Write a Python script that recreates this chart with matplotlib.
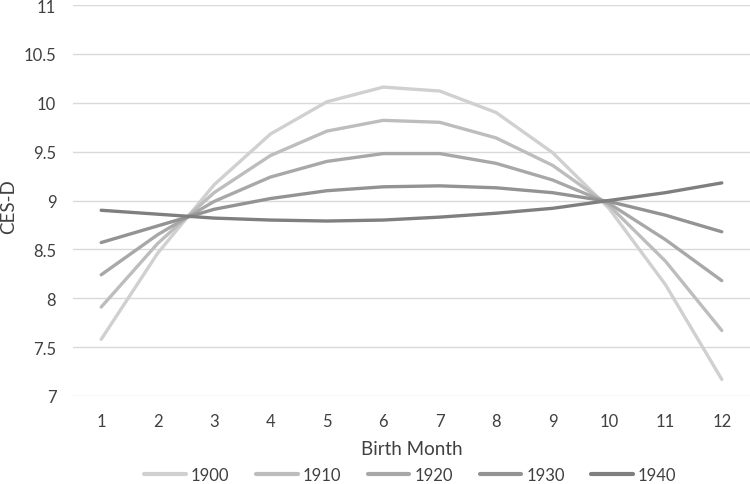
import matplotlib
matplotlib.use("Agg")
import matplotlib.pyplot as plt

# Values.
MONTHS = list(range(1, 13))
COHORTS = ["1900", "1910", "1920", "1930", "1940"]
CESD_1900 = [7.58, 8.46, 9.16, 9.68, 10.01, 10.16, 10.12, 9.90, 9.49, 8.92, 8.14, 7.17]
CESD_1910 = [7.91, 8.56, 9.08, 9.46, 9.71, 9.82, 9.80, 9.64, 9.36, 8.95, 8.38, 7.67]
CESD_1920 = [8.24, 8.65, 8.99, 9.24, 9.40, 9.48, 9.48, 9.38, 9.21, 8.97, 8.60, 8.18]
CESD_1930 = [8.57, 8.74, 8.91, 9.02, 9.10, 9.14, 9.15, 9.13, 9.08, 8.99, 8.85, 8.68]
CESD_1940 = [8.90, 8.86, 8.82, 8.80, 8.79, 8.80, 8.83, 8.87, 8.92, 9.00, 9.08, 9.18]

COLORS = ["#d0d0d0", "#bdbdbd", "#a8a8a8", "#939393", "#7f7f7f"]
TEXT_COLOR = "#404040"

plt.rcParams["font.family"] = ["Lato", "DejaVu Sans"]

fig = plt.figure(figsize=(7.5, 4.85), dpi=100)
ax = fig.add_axes([73 / 750, 1 - 397 / 485, 677 / 750, 391 / 485])

series = [CESD_1900, CESD_1910, CESD_1920, CESD_1930, CESD_1940]
for label, values, color in zip(COHORTS, series, COLORS):
    ax.plot(MONTHS, values, color=color, linewidth=2.4, label=label,
            solid_capstyle="round", solid_joinstyle="round")

ax.set_xlim(0.5, 12.5)
ax.set_ylim(7, 11)
ax.set_yticks([7, 7.5, 8, 8.5, 9, 9.5, 10, 10.5, 11])
ax.set_yticklabels(["7", "7.5", "8", "8.5", "9", "9.5", "10", "10.5", "11"])
ax.set_xticks(MONTHS)
ax.grid(axis="y", color="#d9d9d9", linewidth=1)
ax.set_axisbelow(True)
for side in ["top", "right", "left", "bottom"]:
    ax.spines[side].set_visible(False)
ax.tick_params(length=0, labelsize=12, colors=TEXT_COLOR)
ax.tick_params(axis="x", pad=12)
ax.tick_params(axis="y", pad=12)

# Axis titles placed like the reference
fig.text(411.5 / 750, 1 - 450 / 485, "Birth Month", fontsize=13.5,
         color=TEXT_COLOR, ha="center", va="center")
fig.text(9 / 750, 1 - 207 / 485, "CES-D", fontsize=13.5, color=TEXT_COLOR,
         rotation=90, ha="center", va="center")

leg = fig.legend(loc="center", bbox_to_anchor=(0.547, 0.019), ncol=5,
                 frameon=False, fontsize=12, handlelength=2.5,
                 handletextpad=0.3, columnspacing=1.6, labelcolor=TEXT_COLOR,
                 borderpad=0)
for line in leg.get_lines():
    line.set_linewidth(3)

fig.savefig("out.png", dpi=100)
